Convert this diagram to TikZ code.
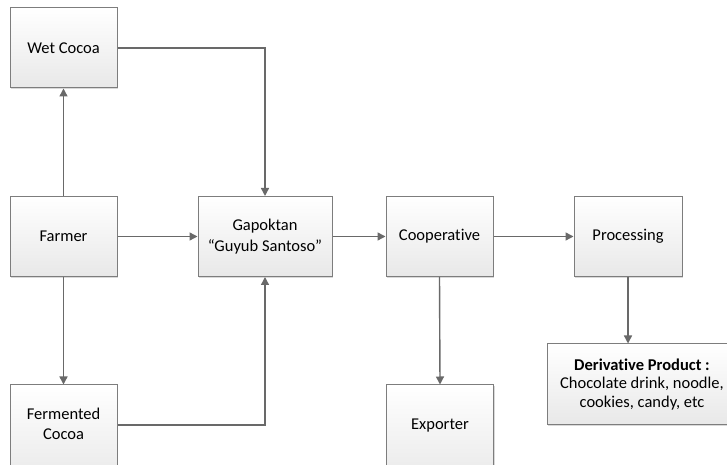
\documentclass[tikz,border=0pt]{standalone}
\usepackage{fontspec}
\setmainfont[Ligatures=NoCommon]{Carlito}
\usetikzlibrary{arrows.meta,positioning,shadows}
\definecolor{lineGray}{RGB}{105,105,105}
\definecolor{boxGray}{RGB}{125,125,125}
\begin{document}
\begin{tikzpicture}[x=1pt,y=1pt,font=\fontsize{16.5}{20.5}\selectfont,
 box/.style={draw=boxGray,line width=1pt,top color=white,bottom color=black!9,
  align=center,minimum width=107pt,minimum height=80pt,inner sep=2pt,
  drop shadow={shadow xshift=1.2pt,shadow yshift=-1.2pt,opacity=.25,fill=black!60}},
 cutbox/.style={box,minimum height=100pt,text depth=22pt},
 arr/.style={-{Triangle[length=8pt,width=8pt]},line width=1.4pt,lineGray}]
\path[use as bounding box] (0,0) rectangle (727,465);
\node[box] (wet) at (63.5,417) {Wet Cocoa};
\node[box] (farmer) at (63.5,228.5) {Farmer};
\node[cutbox] (ferm) at (63.5,30) {Fermented\\Cocoa};
\node[box,minimum width=134pt] (gap) at (265,228.5) {Gapoktan\\“Guyub Santoso”};
\node[box] (coop) at (439.5,228.5) {Cooperative};
\node[box,minimum width=108pt] (proc) at (628,228.5) {Processing};
\node[cutbox] (exp) at (440,30) {Exporter};
\node[box,minimum width=190pt,minimum height=81pt,font=\fontsize{16.5}{18.5}\selectfont] (deriv) at (642,80.5)
 {\textbf{Derivative Product :}\\Chocolate drink, noodle,\\cookies, candy, etc};
\draw[arr] (farmer.north) -- (wet.south);
\draw[arr] (farmer.south) -- (ferm.north);
\draw[arr] (farmer.east) -- (gap.west);
\draw[arr] (wet.east) -| (gap.north);
\draw[arr] (ferm.east |- 0,40) -| (gap.south);
\draw[arr] (gap.east) -- (coop.west);
\draw[arr] (coop.east) -- (proc.west);
\draw[arr] (coop.south) -- (exp.north);
\draw[arr] (proc.south) -- (proc.south |- deriv.north);
\end{tikzpicture}
\end{document}
